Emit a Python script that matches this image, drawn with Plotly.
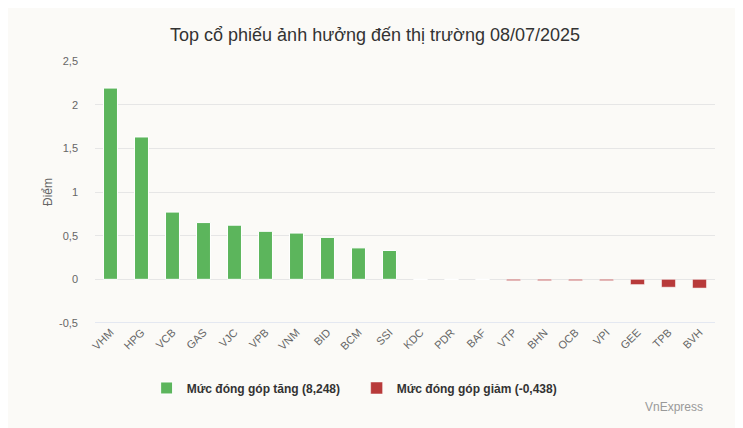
import plotly.graph_objects as go

categories = ["VHM", "HPG", "VCB", "GAS", "VJC", "VPB", "VNM", "BID", "BCM", "SSI",
              "KDC", "PDR", "BAF", "VTP", "BHN", "OCB", "VPI", "GEE", "TPB", "BVH"]
gain_values = [2.19, 1.63, 0.77, 0.65, 0.62, 0.55, 0.53, 0.48, 0.36, 0.33,
               0.0, 0.0, 0.0, None, None, None, None, None, None, None]
loss_values = [None] * 13 + [-0.015, -0.015, -0.015, -0.015, -0.06, -0.09, -0.10]
y_ticks = [-0.5, 0, 0.5, 1, 1.5, 2, 2.5]
y_tick_text = ["-0,5", "0", "0,5", "1", "1,5", "2", "2,5"]

FONT = "Liberation Sans, Arial, sans-serif"

fig = go.Figure()
fig.add_trace(go.Bar(x=categories, y=gain_values, name="Mức đóng góp tăng (8,248)",
                     marker=dict(color="#5cb55c", line=dict(color="#ffffff", width=1)),
                     width=0.45))
fig.add_trace(go.Bar(x=categories, y=loss_values, name="Mức đóng góp giảm (-0,438)",
                     marker=dict(color="#b83a3a", line=dict(color="#ffffff", width=0.5)),
                     width=0.45))

fig.update_layout(
    width=743, height=428,
    barmode="overlay",
    paper_bgcolor="#fbfaf7", plot_bgcolor="#fbfaf7",
    margin=dict(l=87, r=36, t=53, b=113),
    font=dict(family=FONT, color="#666666", size=11),
    title=dict(text="Top cổ phiếu ảnh hưởng đến thị trường 08/07/2025",
               x=0.494, xanchor="center", y=0.937, yanchor="middle",
               font=dict(size=18, color="#333333", family=FONT)),
    showlegend=True,
    legend=dict(orientation="h", x=0.422, xanchor="center", y=-0.248, yanchor="middle",
                font=dict(size=12, color="#333333", family=FONT, weight="bold"),
                itemwidth=30, traceorder="normal", entrywidth=165),
    xaxis=dict(type="category", tickangle=-45, showgrid=False, ticks="",
               tickfont=dict(size=11, color="#666666"),
               showline=False, zeroline=False),
    yaxis=dict(range=[-0.5, 2.5], tickvals=y_ticks, ticktext=y_tick_text,
               showgrid=True, gridcolor="#e6e6e6", gridwidth=1,
               zeroline=False, showline=False, ticks="", ticklabelstandoff=16,
               tickfont=dict(size=11, color="#666666"),
               title=dict(text="Điểm", font=dict(size=12, color="#666666"), standoff=3)),
    annotations=[dict(text="VnExpress", xref="paper", yref="paper", x=0.984, y=-0.32,
                      xanchor="right", yanchor="middle", showarrow=False,
                      font=dict(size=12, color="#999999", family=FONT))],
    shapes=[dict(type="line", xref="paper", yref="y", x0=0, x1=1, y0=-0.5, y1=-0.5,
                 line=dict(color="#ccd6eb", width=1))],
)

fig.write_html("out.html")
